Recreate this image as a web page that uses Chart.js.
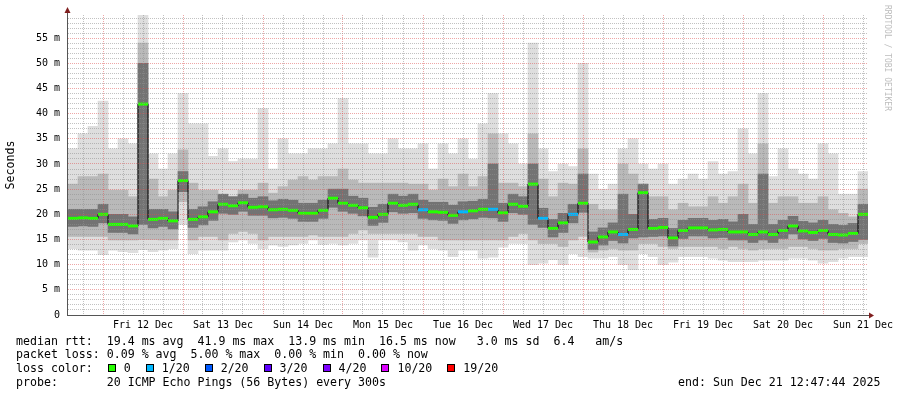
<!DOCTYPE html>
<html><head><meta charset="utf-8">
<script src="https://cdn.jsdelivr.net/npm/chart.js@4.4.1/dist/chart.umd.min.js"></script>
<style>
html,body{margin:0;padding:0;background:#fff;}
#wrap{position:relative;width:897px;height:397px;overflow:hidden;background:#fff;}
canvas{position:absolute;left:0;top:0;}
.leg{position:absolute;font-family:'DejaVu Sans Mono',monospace;font-size:11.6px;line-height:13.7px;white-space:pre;color:#000;}
.sq{display:inline-block;width:6px;height:6px;border:1px solid #000;vertical-align:0px;margin-left:1px;margin-right:8px;}
.lt{display:inline-block;margin-right:14px;}
</style></head><body>
<div id="wrap">
<canvas id="c" width="897" height="397"></canvas>
<div class="leg" id="l1" style="left:16px;top:334.6px"></div>
<div class="leg" id="l2" style="left:16px;top:348.3px"></div>
<div class="leg" id="l3" style="left:16px;top:362px"></div>
<div class="leg" id="l4" style="left:16px;top:375.7px"></div>
<div class="leg" id="l5" style="left:678px;top:375.7px"></div>
</div>
<script>
// hours relative to Fri 12 Dec 00:00 (3-hour buckets)
const HOURS = [-9,-6,-3,0,3,6,9,12,15,18,21,24,27,30,33,36,39,42,45,48,51,54,57,60,63,66,69,72,75,78,81,84,87,90,93,96,99,102,105,108,111,114,117,120,123,126,129,132,135,138,141,144,147,150,153,156,159,162,165,168,171,174,177,180,183,186,189,192,195,198,201,204,207,210,213,216,219,222,225,228];

const MEDIAN = [19.2,19.3,19.2,20.0,18.0,18.0,17.7,41.9,19.0,19.2,
 18.7,26.7,19.0,19.5,20.5,22.0,21.7,22.3,21.4,21.5,
 20.9,21.0,20.8,20.2,20.2,20.8,23.2,22.2,21.8,21.3,
 19.4,20.0,22.2,21.8,22.0,20.9,20.5,20.4,19.8,20.5,
 20.7,21.0,21.0,20.3,22.0,21.6,26.0,19.2,17.2,18.3,
 20.0,22.2,14.5,15.5,16.5,16.0,17.0,24.3,17.2,17.4,
 15.3,16.8,17.3,17.3,16.9,17.0,16.5,16.5,16.0,16.5,
 16.0,16.8,17.7,16.7,16.4,16.8,16.0,15.9,16.2,20.0];

const LOSS = [0,0,0,0,0,0,0,0,0,0,
 0,0,0,0,0,0,0,0,0,0,
 0,0,0,0,0,0,0,0,0,0,
 0,0,0,0,0,1,0,0,0,1,
 0,0,1,0,0,0,0,1,0,0,
 1,0,0,0,0,1,0,0,0,0,
 0,0,0,0,0,0,0,0,0,0,
 0,0,0,0,0,0,0,0,0,0];

const SMOKE_MAX = [33,36,37.5,42.5,33,35,34,59.6,32,29,
 32,44,38,38,31.5,33,30.5,31,31,41,
 29,35,32,32,33,33,34,43,34,34,
 32,32,35,33,33,34,29,34,32,35,
 31,38,44,36,34,30,54,33,28.5,30,
 29.5,50,28,25,26,33,35,30,29,30,
 26,27,28,27,30.5,28,28.5,37,32,44,
 27.5,33,29,28,27,34,32,24,24,28.5];

const MID_HI = [26,27.5,27.5,28,24.8,24.8,23.5,54,27,23.5,
 24.8,32.8,26.2,24.8,24.8,23.5,23.5,24.8,24.8,26.2,
 24.2,25.5,26.8,27.5,26.8,27.5,27.5,29,26.8,26.2,
 26.2,26.2,26.2,26.2,26,26,24.8,27,25.5,28,
 25.5,27.5,36,26.2,26.2,25.5,36,27,23.5,26.2,
 26,33,22,20.9,20.9,30,28,26,23.5,23.5,
 20.9,22.2,21.5,21.5,23.5,22.2,23.5,26,22.2,34,
 22.2,23.5,23.5,22.2,22.2,23.5,20.9,20.2,19.5,25];

const CORE_HI = [21,21,21,22,20,20,19.5,50,21,21,
 20.5,28.5,21,21.5,22.5,24,23.5,24,23.2,23.5,
 22.7,23,22.8,22.2,22.2,22.8,25,25,23.6,23.2,
 21.4,22,24,23.6,24,22.8,22.4,22.4,21.8,22.5,
 22.6,23,30,22.2,24,23.5,30,21.2,19,20.2,
 22,28,16.5,17.3,18.3,24,20,26,19,19.2,
 17.2,18.8,19.2,19.2,18.8,19,18.5,20,18,28,
 18,18.8,19.6,18.6,18.3,18.8,18,17.8,18.2,22];

const CORE_LO = [17.6,17.7,17.6,18.3,16.4,16.4,16.1,18,17.3,17.6,
 17.1,24.5,17.4,17.9,18.8,20.2,20,20.6,19.8,19.8,
 19.3,19.4,19.2,18.6,18.6,19.2,21.4,20.6,20.2,19.7,
 17.8,18.4,20.5,20.2,20.3,19.2,18.9,18.8,18.2,18.9,
 19.1,19.4,19.3,18.6,20.3,20,18,17.4,15.5,16.4,
 18.3,20.4,13,13.9,14.8,14.3,15.3,15.5,15.6,15.7,
 13.7,15.2,15.7,15.7,15.3,15.4,14.9,14.9,14.4,14.9,
 14.4,15.2,16.1,15.1,14.8,15.2,14.4,14.3,14.6,15];

const MID_LO = [15.6,15.6,15.6,15.6,14.9,14.9,14.9,15,15,14.9,
 14.9,22.5,14.9,15.6,15.6,14.9,16.2,16.6,16.2,14.9,
 15.6,15.6,15.6,15.6,15.9,15.6,15.6,15.6,16.2,16.9,
 16.2,16.2,16.2,16.2,16.2,15.6,15.6,14.9,14.9,14.9,
 14.9,14.9,14.9,14.9,15.6,16.2,14.9,14.2,14.2,13.6,
 14.9,15.6,12.5,12.9,13.2,12.9,12.9,14.2,14.2,13.6,
 13.2,13.6,13.6,13.6,13.6,13.2,13.6,13.2,12.9,13.2,
 13.2,13.2,13.6,13.6,13.2,12.9,12.9,13.2,13.2,14.2];

const SMOKE_MIN = [13.2,12.9,12.9,12,12.9,12.6,12.4,13,12.6,12.9,
 13.2,18,12.2,12.9,12.9,12.9,14.5,14.9,14.2,13.2,
 13.9,13.6,13.9,14.2,14.9,14,14.2,13.9,14.2,14.9,
 11.5,14.9,14.9,14.5,12.9,13.9,13.2,12.9,11.6,12.9,
 12.9,11.3,11.5,13.5,14.2,14.2,10,10.3,11,10,
 12.2,11.6,11.3,11.3,11.6,10,9,12.2,11.6,10,
 10.5,11.6,11.6,11.6,11.3,10.9,10.6,10.6,10.6,10.9,
 10.9,10.9,11.3,11.3,10.9,10.3,10.6,11.3,11.6,11.6];

const DAY_NOON_HOURS = [12,36,60,84,108,132,156,180,204,228];
const DAY_LABELS = ['Fri 12 Dec','Sat 13 Dec','Sun 14 Dec','Mon 15 Dec','Tue 16 Dec','Wed 17 Dec','Thu 18 Dec','Fri 19 Dec','Sat 20 Dec','Sun 21 Dec'];
const Y_TICK_VALUES = [0,5,10,15,20,25,30,35,40,45,50,55];
const Y_TICK_LABELS = ['0','5 m','10 m','15 m','20 m','25 m','30 m','35 m','40 m','45 m','50 m','55 m'];
const LOSS_LEGEND = ['0','1/20','2/20','3/20','4/20','10/20','19/20'];
const LOSS_COLORS = ['#26ff00','#00b8ff','#0059ff','#5e00ff','#7e00ff','#dd00ff','#ff0000'];

const FONT = {family:"'DejaVu Sans Mono', monospace", size:11.6};
const TICK_FONT = {family:"'DejaVu Sans Mono', monospace", size:10};
const MAJOR = 'rgba(222,79,79,0.5)';
const MINOR = 'rgba(143,143,143,0.55)';

function band(lo, hi, color, order){
  return {type:'bar', data:HOURS.map((h,i)=>({x:h, y:[lo[i],hi[i]]})),
    backgroundColor:color, borderWidth:0, grouped:false,
    barPercentage:1, categoryPercentage:1, order};
}

const decor = {
  id:'decor',
  afterDraw(chart){
    const c = chart.ctx, a = chart.chartArea;
    c.save();
    c.strokeStyle = '#555'; c.lineWidth = 1;
    c.beginPath(); c.moveTo(a.left+0.5, a.top); c.lineTo(a.left+0.5, a.top-3); c.stroke();
    c.beginPath(); c.moveTo(a.right, a.bottom+0.5); c.lineTo(a.right+2, a.bottom+0.5); c.stroke();
    c.fillStyle = 'rgb(128,31,31)';
    c.beginPath(); c.moveTo(a.left+0.5, a.top-8); c.lineTo(a.left-2.5, a.top-2); c.lineTo(a.left+3.5, a.top-2); c.closePath(); c.fill();
    c.beginPath(); c.moveTo(a.right+6, a.bottom+0.5); c.lineTo(a.right+1, a.bottom-2.5); c.lineTo(a.right+1, a.bottom+3.5); c.closePath(); c.fill();
    c.translate(887, 5); c.rotate(Math.PI/2);
    c.fillStyle = '#bdbdbd'; c.font = "8px 'DejaVu Sans Mono'"; c.textBaseline = 'middle';
    c.fillText('RRDTOOL / TOBI OETIKER', 0, 0);
    c.restore();
  }
};

new Chart(document.getElementById('c'), {
  data:{datasets:[
    {type:'line', data:HOURS.map((h,i)=>({x:h,y:MEDIAN[i]})), stepped:'middle',
     borderColor:'#000', borderWidth:1, pointStyle:'line', pointRadius:5, pointHoverRadius:5,
     pointBorderWidth:3, pointBorderColor:LOSS.map(l=>LOSS_COLORS[l]), order:0},
    band(CORE_LO, CORE_HI, '#737373', 1),
    band(MID_LO, MID_HI, '#b9b9b9', 2),
    band(SMOKE_MIN, SMOKE_MAX, '#dedede', 3)
  ]},
  options:{
    responsive:false, animation:false, events:[],
    layout:{padding:{left:0,right:29,top:15,bottom:52}},
    plugins:{legend:{display:false}, tooltip:{enabled:false}},
    scales:{
      x:{type:'linear', min:-10.8, max:229.5, offset:false,
        afterBuildTicks:s=>{ const t=[]; for(let h=-6;h<=228;h+=6) t.push({value:h}); s.ticks=t; },
        afterFit:s=>{ s.height=30; s.paddingLeft=0; s.paddingRight=0; },
        ticks:{autoSkip:false, maxRotation:0, padding:4, font:TICK_FONT, color:'#000',
          callback:v=>{ const k=DAY_NOON_HOURS.indexOf(v); return k>=0?DAY_LABELS[k]:''; }},
        grid:{z:1, drawTicks:false, offset:false, color:ctx=> (ctx.tick && ctx.tick.value%24===0) ? MAJOR : MINOR},
        border:{color:'#555', dash:[1,1], z:2}
      },
      y:{min:0, max:59.6,
        afterBuildTicks:s=>{ const t=[]; for(let v=0;v<=59;v++) t.push({value:v}); s.ticks=t; },
        afterFit:s=>{ s.width=67; s.paddingTop=0; s.paddingBottom=0; },
        ticks:{autoSkip:false, padding:7, font:TICK_FONT, color:'#000',
          callback:v=>{ const k=Y_TICK_VALUES.indexOf(v); return k>=0?Y_TICK_LABELS[k]:''; }},
        grid:{z:1, drawTicks:false, color:ctx=> (ctx.tick && ctx.tick.value%5===0) ? MAJOR : MINOR},
        border:{color:'#555', dash:[1,1], z:2},
        title:{display:true, text:'Seconds', font:FONT, color:'#000', padding:{top:4,bottom:0}}
      }
    }
  },
  plugins:[decor]
});

document.getElementById('l1').textContent = 'median rtt:  19.4 ms avg  41.9 ms max  13.9 ms min  16.5 ms now   3.0 ms sd  6.4   am/s';
document.getElementById('l2').textContent = 'packet loss: 0.09 % avg  5.00 % max  0.00 % min  0.00 % now';
const l3 = document.getElementById('l3');
l3.appendChild(document.createTextNode('loss color:  '));
LOSS_LEGEND.forEach((lab,i)=>{
  const sq=document.createElement('span'); sq.className='sq'; sq.style.background=LOSS_COLORS[i]; l3.appendChild(sq);
  const t=document.createElement('span'); t.className='lt'; t.textContent=lab; l3.appendChild(t);
});
document.getElementById('l4').textContent = 'probe:       20 ICMP Echo Pings (56 Bytes) every 300s';
document.getElementById('l5').textContent = 'end: Sun Dec 21 12:47:44 2025';
</script>
</body></html>
